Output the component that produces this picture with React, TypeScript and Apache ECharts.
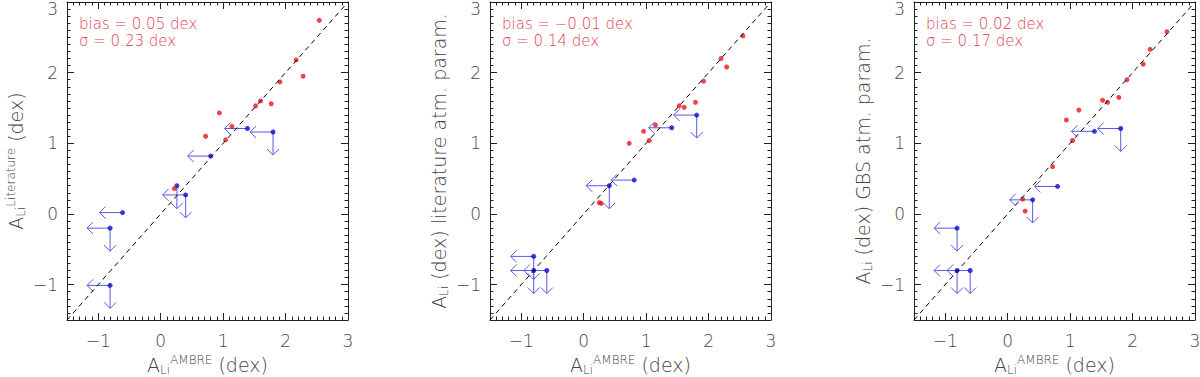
import React, { useEffect, useRef } from 'react';
import * as echarts from 'echarts';

const AXIS_MIN = -1.5;
const AXIS_MAX = 3;
const majorTicks = [-1, 0, 1, 2, 3];
const diagonal: [number, number][] = [[-1.5, -1.5], [3, 3]];

// red: measured points ; limits: [x, y, leftArrow, downArrow]
const litRed: [number, number][] = [
  [2.54, 2.74], [2.17, 2.18], [2.28, 1.95], [1.91, 1.87], [1.6, 1.6], [1.52, 1.53],
  [1.77, 1.56], [0.94, 1.43], [1.14, 1.24], [0.72, 1.1], [1.04, 1.05], [0.22, 0.36],
];
const litLimits: [number, number, number, number][] = [
  [1.39, 1.21, 1, 0], [1.8, 1.16, 1, 1], [0.8, 0.82, 1, 0], [0.26, 0.4, 0, 1],
  [0.4, 0.27, 1, 1], [-0.61, 0.02, 1, 0], [-0.81, -0.2, 1, 1], [-0.81, -1.01, 1, 1],
];
const atmRed: [number, number][] = [
  [2.55, 2.52], [2.2, 2.2], [2.29, 2.08], [1.92, 1.88], [1.79, 1.58], [1.53, 1.53],
  [1.61, 1.51], [1.15, 1.26], [0.96, 1.17], [1.05, 1.04], [0.73, 1.0], [0.25, 0.16], [0.28, 0.15],
];
const atmLimits: [number, number, number, number][] = [
  [1.41, 1.22, 1, 0], [1.81, 1.4, 1, 1], [0.81, 0.48, 1, 0], [0.41, 0.4, 1, 1],
  [-0.8, -0.6, 1, 1], [-0.8, -0.8, 1, 1], [-0.59, -0.8, 1, 1],
];
const gbsRed: [number, number][] = [
  [2.55, 2.58], [2.28, 2.33], [2.17, 2.12], [1.91, 1.9], [1.78, 1.65], [1.52, 1.61],
  [1.6, 1.58], [1.14, 1.47], [0.94, 1.33], [1.04, 1.04], [0.72, 0.67], [0.24, 0.21], [0.28, 0.04],
];
const gbsLimits: [number, number, number, number][] = [
  [1.39, 1.17, 1, 0], [1.81, 1.21, 1, 1], [0.8, 0.39, 1, 0], [0.4, 0.2, 1, 1],
  [-0.81, -0.2, 1, 1], [-0.81, -0.8, 1, 1], [-0.6, -0.8, 1, 1],
];

const redSets = [litRed, atmRed, gbsRed];
const limitSets = [litLimits, atmLimits, gbsLimits];
const xTitle = '{a|A}{sub|Li}{sup|AMBRE}{a| (dex)}';
const yTitles = [
  '{a|A}{sub|Li}{sup|Literature}{a| (dex)}',
  '{a|A}{sub|Li}{a| (dex) literature atm. param.}',
  '{a|A}{sub|Li}{a| (dex) GBS atm. param.}',
];
const biasLabels = ['bias = 0.05 dex', 'bias = −0.01 dex', 'bias = 0.02 dex'];
const sigmaLabels = ['σ = 0.23 dex', 'σ = 0.14 dex', 'σ = 0.17 dex'];

const GRID_LEFTS = [67, 490, 914];
const GRID_TOP = 2;
const GRID_W = 281;
const GRID_H = 318;
const FONT = '"DejaVu Sans", sans-serif';
const TXT = '#444';
const RED = '#e8141e';
const BLUE = '#0a0ad8';
const ARROW = '#5a5ae0';
const ANNOT = '#e2404f';
const W = 200;

const rich = {
  a: { fontSize: 19, fontFamily: FONT, color: TXT, fontWeight: W, lineHeight: 22 },
  sub: { fontSize: 12, fontFamily: FONT, color: TXT, fontWeight: W, verticalAlign: 'bottom' },
  sup: { fontSize: 12, fontFamily: FONT, color: TXT, fontWeight: W, verticalAlign: 'top' },
};

const fmt = (v: number) => String(Math.round(v)).replace('-', '−');
// the y axis' top label sits at the page edge; it is drawn separately so that it stays inside
const yLabelValues = majorTicks.filter((v) => v < AXIS_MAX);

function makeAxes(dim: 'x' | 'y', i: number) {
  const posMain = dim === 'x' ? 'bottom' : 'left';
  const posOpp = dim === 'x' ? 'top' : 'right';
  const base = { gridIndex: i, type: 'value', min: AXIS_MIN, max: AXIS_MAX, splitLine: { show: false } };
  const res: any[] = [];
  [posMain, posOpp].forEach((pos, k) => {
    res.push({
      ...base,
      position: pos,
      interval: 0.5,
      axisLine: { show: true, onZero: false, lineStyle: { color: '#222', width: 1 } },
      axisTick: { show: true, inside: true, length: 7, customValues: majorTicks, lineStyle: { color: '#222' } },
      axisLabel: k === 0
        ? {
            show: true, customValues: dim === 'x' ? majorTicks : yLabelValues, formatter: fmt,
            fontSize: 17, fontFamily: FONT, fontWeight: W, color: TXT, margin: dim === 'x' ? 12 : 9,
          }
        : { show: false },
      name: k === 0 ? (dim === 'x' ? xTitle : yTitles[i]) : '',
      nameLocation: 'middle',
      nameGap: dim === 'x' ? 29 : 40,
      nameTextStyle: { rich },
    });
    res.push({
      ...base,
      position: pos,
      interval: 0.1,
      axisLine: { show: false, onZero: false },
      axisTick: { show: true, inside: true, length: 3.5, lineStyle: { color: '#222' } },
      axisLabel: { show: false },
    });
  });
  return res;
}

export default function App() {
  const ref = useRef<HTMLDivElement>(null);
  useEffect(() => {
    if (!ref.current) return;
    const chart = echarts.init(ref.current, undefined, { renderer: 'svg' });
    const grid = GRID_LEFTS.map((l) => ({
      left: l, top: GRID_TOP, width: GRID_W, height: GRID_H, containLabel: false, outerBoundsMode: 'none',
    }));
    const xAxis: any[] = [];
    const yAxis: any[] = [];
    const series: any[] = [];
    const graphic: any[] = [];
    for (let i = 0; i < 3; i++) {
      xAxis.push(...makeAxes('x', i));
      yAxis.push(...makeAxes('y', i));
      const ax = i * 4;
      series.push({
        type: 'line', xAxisIndex: ax, yAxisIndex: ax, data: diagonal, symbol: 'none', silent: true,
        lineStyle: { color: '#000', width: 1, type: [5, 4] },
      });
      series.push({
        type: 'custom', xAxisIndex: ax, yAxisIndex: ax, data: limitSets[i],
        renderItem: (params: any, api: any) => {
          const p = api.coord([api.value(0), api.value(1)]);
          const L = 23, H = 6;
          const st = { stroke: ARROW, lineWidth: 1, fill: null };
          const children: any[] = [];
          if (api.value(2)) {
            children.push({ type: 'line', shape: { x1: p[0], y1: p[1], x2: p[0] - L, y2: p[1] }, style: st });
            children.push({ type: 'polyline', shape: { points: [[p[0] - L + H, p[1] - H], [p[0] - L, p[1]], [p[0] - L + H, p[1] + H]] }, style: st });
          }
          if (api.value(3)) {
            children.push({ type: 'line', shape: { x1: p[0], y1: p[1], x2: p[0], y2: p[1] + L }, style: st });
            children.push({ type: 'polyline', shape: { points: [[p[0] - H, p[1] + L - H], [p[0], p[1] + L], [p[0] + H, p[1] + L - H]] }, style: st });
          }
          return { type: 'group', children };
        },
      });
      series.push({
        type: 'scatter', xAxisIndex: ax, yAxisIndex: ax, symbol: 'circle', symbolSize: 5,
        data: limitSets[i].map((d) => [d[0], d[1]]), itemStyle: { color: BLUE },
      });
      series.push({
        type: 'scatter', xAxisIndex: ax, yAxisIndex: ax, symbol: 'circle', symbolSize: 5,
        data: redSets[i], itemStyle: { color: RED },
      });
      graphic.push({
        type: 'text', x: GRID_LEFTS[i] - 9, y: 0,
        style: {
          text: fmt(AXIS_MAX), fill: TXT, fontSize: 17, lineHeight: 17, fontFamily: FONT, fontWeight: W,
          align: 'right', verticalAlign: 'top',
        },
      });
      graphic.push({
        type: 'text', left: GRID_LEFTS[i] + 12, top: 16,
        style: { text: biasLabels[i], fill: ANNOT, fontSize: 15, lineHeight: 16, fontFamily: FONT, fontWeight: W },
      });
      graphic.push({
        type: 'text', left: GRID_LEFTS[i] + 12, top: 33,
        style: { text: sigmaLabels[i], fill: ANNOT, fontSize: 15, lineHeight: 16, fontFamily: FONT, fontWeight: W },
      });
    }
    chart.setOption({
      animation: false,
      backgroundColor: '#fff',
      grid, xAxis, yAxis, series, graphic,
    });
    return () => chart.dispose();
  }, []);
  return <div ref={ref} style={{ position: 'absolute', left: 0, top: 0, width: 1200, height: 377 }} />;
}
